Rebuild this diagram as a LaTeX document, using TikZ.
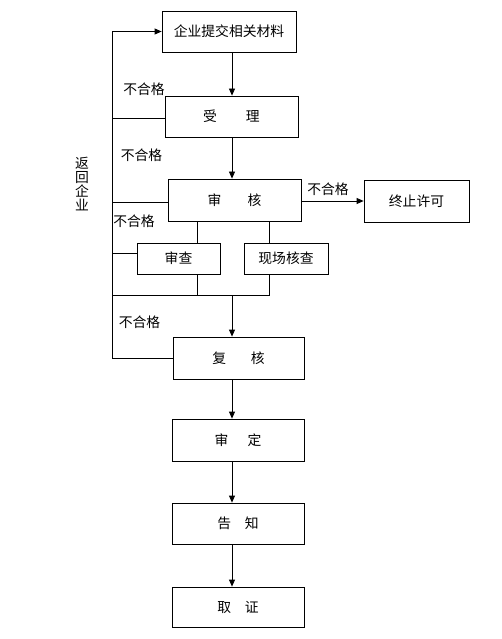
\documentclass[tikz,border=0pt]{standalone}
\usepackage{fontspec}
\setmainfont{Noto Sans CJK SC}
\usetikzlibrary{arrows.meta}
\begin{document}
\begin{tikzpicture}[x=1pt,y=-1pt,
  font=\fontsize{13.8}{15}\selectfont,
  box/.style={draw,line width=0.8pt,inner sep=0pt,minimum height=41pt},
  ln/.style={line width=0.8pt},
  arr/.style={line width=0.8pt,-{Triangle[length=7pt,width=6pt]}},
  lab/.style={inner sep=0pt}]
\useasboundingbox (0,0) rectangle (502,639);
\node[box,minimum width=134pt] (b1) at (229,31.5) {企业提交相关材料};
\node[box,minimum width=133pt] (sl) at (231.5,116.5) {受\hspace{2.1em}理};
\node[box,minimum width=133pt,minimum height=42pt] (sh) at (234.5,200) {审\hspace{1.9em}核};
\node[box,minimum width=83pt,minimum height=31pt] (sc) at (178.5,258.5) {审查};
\node[box,minimum width=84pt,minimum height=31pt] (xc) at (286,258.5) {现场核查};
\node[box,minimum width=105pt,minimum height=42pt] (zz) at (416.5,201) {终止许可};
\node[box,minimum width=131pt,minimum height=42pt] (fh) at (238.5,358) {复\hspace{1.8em}核};
\node[box,minimum width=132pt,minimum height=42pt] (sd) at (238,440) {审\hspace{1.4em}定};
\node[box,minimum width=132pt] (gz) at (238,523.5) {告\hspace{1em}知};
\node[box,minimum width=132pt,minimum height=40pt] (qz) at (238,607) {取\hspace{1em}证};
\node[lab,align=center,font=\fontsize{13.8}{14}\selectfont] (fh2) at (82,184.5) {返\\回\\企\\业};
\node[lab] (l1) at (144,89) {不合格};
\node[lab] (l2) at (141.5,155) {不合格};
\node[lab] (l3) at (134,221) {不合格};
\node[lab] (l4) at (139.5,322) {不合格};
\node[lab] (l5) at (328,189) {不合格};
\coordinate (ax) at (232,0);
\coordinate (lx) at (112,0);
\coordinate (c1) at (197,0);
\coordinate (c2) at (269,0);
\coordinate (jn) at (232,295);
\draw[arr] (b1.south -| ax) -- (sl.north -| ax);
\draw[arr] (sl.south -| ax) -- (sh.north -| ax);
\draw[arr] (jn) -- (fh.north -| jn);
\draw[arr] (fh.south -| ax) -- (sd.north -| ax);
\draw[arr] (sd.south -| ax) -- (gz.north -| ax);
\draw[arr] (gz.south -| ax) -- (qz.north -| ax);
\draw[arr] (sh.east |- zz.west) -- (zz.west);
\draw[arr] (fh.west -| lx) -- (b1.west -| lx) -- (b1.west);
\draw[ln] (fh.west) -- (fh.west -| lx);
\draw[ln] (sl.west |- 0,118) -- (lx |- 0,118);
\draw[ln] (sh.west |- 0,202) -- (lx |- 0,202);
\draw[ln] (sc.west |- 0,253) -- (lx |- 0,253);
\draw[ln] (sh.south -| c1) -- (sc.north -| c1);
\draw[ln] (sh.south -| c2) -- (xc.north -| c2);
\draw[ln] (sc.south -| c1) -- (c1 |- jn);
\draw[ln] (xc.south -| c2) -- (c2 |- jn) -- (lx |- jn);
\end{tikzpicture}
\end{document}
